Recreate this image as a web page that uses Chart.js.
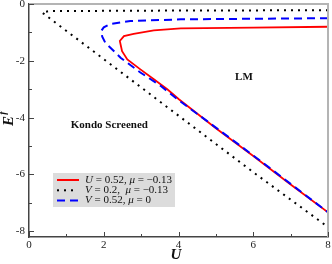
<!DOCTYPE html>
<html>
<head>
<meta charset="utf-8">
<script src="https://cdn.jsdelivr.net/npm/chart.js@4"></script>
<style>
  html, body { margin: 0; padding: 0; background: #fff; }
  #wrap { width: 332px; height: 264px; }
</style>
</head>
<body>
<div id="wrap"><canvas id="chart" width="332" height="264"></canvas></div>
<script>
// Phase boundaries E^f vs U
const RED_U = [8, 6, 4.06, 3.34, 2.80, 2.54, 2.43, 2.49, 2.63, 2.98, 3.34, 3.70, 4.01, 5, 6, 7, 8];
const RED_E = [-0.80, -0.83, -0.86, -0.93, -1.05, -1.13, -1.30, -1.66, -1.95, -2.30, -2.65, -3.00, -3.35, -4.37, -5.35, -6.35, -7.33];

const BLACK_U = [8, 4, 0.54, 0.35, 2, 4, 6, 8];
const BLACK_E = [-0.22, -0.23, -0.25, -0.30, -1.94, -3.93, -5.92, -7.85];

const BLUE_U = [8, 6, 4.06, 2.71, 2.18, 2.00, 1.93, 1.96, 2.04, 2.45, 2.98, 3.52, 3.97, 5, 6, 7, 8];
const BLUE_E = [-0.50, -0.52, -0.54, -0.60, -0.70, -0.82, -0.95, -1.15, -1.36, -1.89, -2.41, -2.88, -3.35, -4.35, -5.33, -6.33, -7.33];

const X_TICKS = [0, 2, 4, 6, 8];
const X_MINOR = [1, 3, 5, 7];
const Y_TICKS = [0, -2, -4, -6, -8];
const Y_MINOR = [-1, -3, -5, -7];

const SERIF = '"Liberation Serif", "DejaVu Serif", serif';

const toPoints = (us, es) => us.map((u, i) => ({ x: u, y: es[i] }));

// legend rows: [style, text pieces] ; italic pieces are variables
const LEGEND = [
  { kind: 'solid', color: '#ff0000', parts: [['U', 1], [' = 0.52, ', 0], ['μ', 1], [' = −0.13', 0]] },
  { kind: 'dot', color: '#000000', parts: [['V', 1], [' = 0.2,  ', 0], ['μ', 1], [' = −0.13', 0]] },
  { kind: 'dash', color: '#0000ff', parts: [['V', 1], [' = 0.52, ', 0], ['μ', 1], [' = 0', 0]] }
];

const decorPlugin = {
  id: 'decor',
  afterDraw(chart) {
    const ctx = chart.ctx;
    const { left, right, top, bottom } = chart.chartArea;
    const xs = chart.scales.x;
    const ys = chart.scales.y;

    ctx.save();
    // gray frame on top/right
    ctx.strokeStyle = '#b4b4b4';
    ctx.lineWidth = 2;
    ctx.beginPath();
    ctx.moveTo(left, top);
    ctx.lineTo(right, top);
    ctx.lineTo(right, bottom);
    ctx.stroke();

    // inward ticks
    ctx.strokeStyle = '#444';
    ctx.lineWidth = 1;
    const xTick = (v, len) => {
      const p = Math.round(xs.getPixelForValue(v)) + 0.5;
      ctx.beginPath(); ctx.moveTo(p, bottom); ctx.lineTo(p, bottom - len); ctx.stroke();
    };
    const yTick = (v, len) => {
      const p = Math.round(ys.getPixelForValue(v)) + 0.5;
      ctx.beginPath(); ctx.moveTo(left, p); ctx.lineTo(left + len, p); ctx.stroke();
    };
    X_TICKS.forEach(v => xTick(v, 5));
    X_MINOR.forEach(v => xTick(v, 3));
    Y_TICKS.forEach(v => yTick(v, 5));
    Y_MINOR.forEach(v => yTick(v, 3));

    // region labels
    ctx.fillStyle = '#111';
    ctx.font = 'bold 11px ' + SERIF;
    ctx.textAlign = 'center';
    ctx.textBaseline = 'middle';
    ctx.fillText('LM', xs.getPixelForValue(5.75), ys.getPixelForValue(-2.58));
    ctx.fillText('Kondo Screened', xs.getPixelForValue(2.15), ys.getPixelForValue(-4.27));

    // axis titles
    ctx.font = 'bold italic 15px ' + SERIF;
    ctx.fillText('U', 176, 255);
    ctx.save();
    ctx.translate(9, 119);
    ctx.rotate(-Math.PI / 2);
    ctx.fillText('E', -2, 0);
    ctx.font = 'bold italic 10px ' + SERIF;
    ctx.fillText('f', 6, -6);
    ctx.restore();

    // legend box
    const bx = 53, by = 173, bw = 122, bh = 34;
    ctx.fillStyle = '#dcdcdc';
    ctx.fillRect(bx, by, bw, bh);
    LEGEND.forEach((row, i) => {
      const y = 180 + i * 10.3;
      ctx.strokeStyle = row.color;
      ctx.fillStyle = row.color;
      if (row.kind === 'solid') {
        ctx.lineWidth = 2;
        ctx.setLineDash([]);
        ctx.beginPath(); ctx.moveTo(57, y); ctx.lineTo(79, y); ctx.stroke();
      } else if (row.kind === 'dash') {
        ctx.lineWidth = 2;
        ctx.setLineDash([8, 5]);
        ctx.beginPath(); ctx.moveTo(57, y); ctx.lineTo(79, y); ctx.stroke();
        ctx.setLineDash([]);
      } else {
        [58, 65, 72].forEach(x => { ctx.fillRect(x - 1, y - 1, 2, 2); });
      }
      let x = 85;
      ctx.fillStyle = '#111';
      ctx.textAlign = 'left';
      row.parts.forEach(([t, it]) => {
        ctx.font = (it ? 'italic ' : '') + '11px ' + SERIF;
        ctx.fillText(t, x, y);
        x += ctx.measureText(t).width;
      });
    });
    ctx.restore();
  }
};

new Chart(document.getElementById('chart'), {
  type: 'scatter',
  data: {
    datasets: [
      {
        label: 'U = 0.52, mu = -0.13',
        data: toPoints(RED_U, RED_E),
        showLine: true,
        borderColor: '#ff0000',
        borderWidth: 1.8,
        pointRadius: 0,
        tension: 0,
        order: 2
      },
      {
        label: 'V = 0.2, mu = -0.13',
        data: toPoints(BLACK_U, BLACK_E),
        showLine: true,
        borderColor: '#000000',
        borderWidth: 2,
        borderDash: [2, 5],
        pointRadius: 0,
        order: 1
      },
      {
        label: 'V = 0.52, mu = 0',
        data: toPoints(BLUE_U, BLUE_E),
        showLine: true,
        borderColor: '#0000ff',
        borderWidth: 2,
        borderDash: [8, 5],
        pointRadius: 0,
        order: 0
      }
    ]
  },
  options: {
    responsive: false,
    animation: false,
    layout: { padding: { top: 4, right: 4, left: 0, bottom: 0 } },
    plugins: {
      legend: { display: false },
      tooltip: { enabled: false }
    },
    scales: {
      x: {
        type: 'linear',
        min: 0,
        max: 8,
        afterBuildTicks: (s) => { s.ticks = X_TICKS.map(v => ({ value: v })); },
        afterFit: (s) => { s.height = 27; s.paddingLeft = 0; s.paddingRight = 0; },
        grid: { display: false, drawTicks: false },
        border: { display: true, color: '#444', width: 1.5 },
        ticks: { color: '#222', font: { family: SERIF, size: 11 }, padding: 2, maxRotation: 0, autoSkip: false }
      },
      y: {
        type: 'linear',
        min: -8.2,
        max: 0,
        afterBuildTicks: (s) => { s.ticks = Y_TICKS.map(v => ({ value: v })); },
        afterFit: (s) => { s.width = 29; s.paddingTop = 0; s.paddingBottom = 0; },
        grid: { display: false, drawTicks: false },
        border: { display: true, color: '#444', width: 1.5 },
        ticks: { color: '#222', font: { family: SERIF, size: 11 }, padding: 4, autoSkip: false, callback: (v) => String(v).replace('\u2212', '-') }
      }
    }
  },
  plugins: [decorPlugin]
});
</script>
</body>
</html>
